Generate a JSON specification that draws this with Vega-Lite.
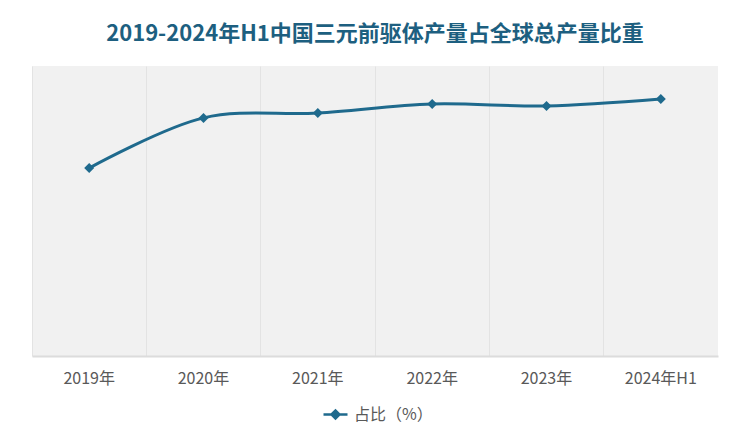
{
  "$schema": "https://vega.github.io/schema/vega-lite/v6.json",
  "autosize": {"type": "none"},
  "width": 686,
  "height": 290,
  "padding": {"top": 66, "left": 32, "right": 32, "bottom": 92},
  "background": "#ffffff",
  "title": {
    "text": "2019-2024年H1中国三元前驱体产量占全球总产量比重",
    "font": "Noto Sans CJK SC",
    "fontSize": 22,
    "fontWeight": "bold",
    "color": "#1d5f80",
    "anchor": "middle",
    "offset": 20
  },
  "data": {
    "values": [
      {"year": "2019年", "value": 64.8, "series": "占比（%）"},
      {"year": "2020年", "value": 82.1, "series": "占比（%）"},
      {"year": "2021年", "value": 83.8, "series": "占比（%）"},
      {"year": "2022年", "value": 86.9, "series": "占比（%）"},
      {"year": "2023年", "value": 86.2, "series": "占比（%）"},
      {"year": "2024年H1", "value": 88.6, "series": "占比（%）"}
    ]
  },
  "encoding": {
    "x": {
      "field": "year",
      "type": "nominal",
      "sort": null,
      "scale": {"type": "band", "paddingInner": 0, "paddingOuter": 0},
      "axis": {
        "title": null,
        "labelAngle": 0,
        "labelFont": "Noto Sans CJK SC",
        "labelFontSize": 16,
        "labelColor": "#595959",
        "labelPadding": 14,
        "ticks": false,
        "domain": true,
        "domainColor": "#dcdcdc",
        "domainWidth": 2,
        "grid": true,
        "gridColor": "#e3e3e3",
        "gridWidth": 1,
        "bandPosition": 0
      }
    },
    "y": {
      "field": "value",
      "type": "quantitative",
      "scale": {"domain": [0, 100]},
      "axis": null
    },
    "color": {
      "field": "series",
      "type": "nominal",
      "scale": {"range": ["#1f6a8d"]},
      "legend": {
        "title": null,
        "orient": "none",
        "legendX": 290,
        "legendY": 335,
        "labelFont": "Noto Sans CJK SC",
        "labelFontSize": 16,
        "labelColor": "#595959",
        "symbolType": "M-1,0H1M-0.33,0L0,-0.33L0.33,0L0,0.33Z",
        "symbolSize": 576,
        "symbolStrokeWidth": 2.5,
        "symbolFillColor": "#1f6a8d",
        "symbolStrokeColor": "#1f6a8d",
        "labelOffset": 5
      }
    }
  },
  "layer": [
    {
      "mark": {"type": "line", "interpolate": "catmull-rom", "strokeWidth": 3}
    },
    {
      "mark": {"type": "point", "shape": "diamond", "filled": true, "size": 100, "opacity": 1}
    }
  ],
  "config": {
    "view": {"fill": "#f1f1f1", "stroke": null},
    "font": "Noto Sans CJK SC"
  }
}
